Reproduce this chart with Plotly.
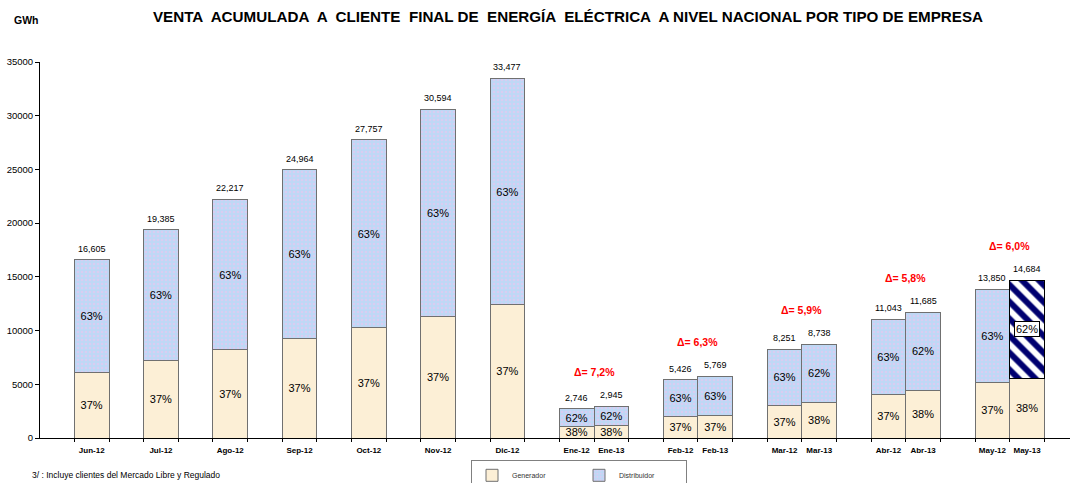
import plotly.graph_objects as go

# ---------------- data ----------------
categories = ["Jun-12", "Jul-12", "Ago-12", "Sep-12", "Oct-12", "Nov-12", "Dic-12",
              "Ene-12", "Ene-13", "Feb-12", "Feb-13", "Mar-12", "Mar-13",
              "Abr-12", "Abr-13", "May-12", "May-13"]
generador = [6144, 7172, 8220, 9237, 10270, 11320, 12386,
             1043, 1119, 2008, 2135, 3053, 3320, 4086, 4440, 5125, 5580]
distribuidor = [10461, 12213, 13997, 15727, 17487, 19274, 21091,
                1703, 1826, 3418, 3634, 5198, 5418, 6957, 7245, 8725, 9104]
totales = [16605, 19385, 22217, 24964, 27757, 30594, 33477,
           2746, 2945, 5426, 5769, 8251, 8738, 11043, 11685, 13850, 14684]
pct_generador = ["37%", "37%", "37%", "37%", "37%", "37%", "37%",
                 "38%", "38%", "37%", "37%", "37%", "38%", "37%", "38%", "37%", "38%"]
pct_distribuidor = ["63%", "63%", "63%", "63%", "63%", "63%", "63%",
                    "62%", "62%", "63%", "63%", "63%", "62%", "63%", "62%", "63%", "62%"]
delta_labels = ["Δ= 7,2%", "Δ= 6,3%", "Δ= 5,9%", "Δ= 5,8%", "Δ= 6,0%"]

# ---------------- layout helpers ----------------
n_single = 7
x_pos = list(range(n_single)) + [n_single + 1.5 * i + 0.5 * j
                                 for i in range(len(delta_labels)) for j in range(2)]
bar_w = 0.5
FONT = "Liberation Sans"

fig = go.Figure()
fig.add_trace(go.Bar(
    name="Generador", x=x_pos, y=generador, width=bar_w,
    marker=dict(color="#FCEFD6", line=dict(color="#707070", width=1)),
    text=pct_generador, textposition="inside", insidetextanchor="middle",
    textangle=0, insidetextfont=dict(family=FONT, size=11, color="black"),
    hoverinfo="skip"))
fig.add_trace(go.Bar(
    name="Distribuidor", x=x_pos[:-1], y=distribuidor[:-1], width=bar_w,
    marker=dict(color="#BED8F5", line=dict(color="#707070", width=1),
                pattern=dict(shape=".", fgcolor="#E0CAF0", size=4, solidity=0.3,
                             fillmode="overlay", fgopacity=0.8)),
    text=pct_distribuidor[:-1], textposition="inside", insidetextanchor="middle",
    textangle=0, insidetextfont=dict(family=FONT, size=11, color="black"),
    hoverinfo="skip"))
# highlighted (hatched) last bar
fig.add_trace(go.Bar(
    name="Distribuidor", x=x_pos[-1:], y=distribuidor[-1:], width=bar_w,
    showlegend=False,
    marker=dict(color="white", line=dict(color="black", width=1),
                pattern=dict(shape="\\", fgcolor="#000070", size=12, solidity=0.5,
                             fillmode="overlay", fgopacity=1)),
    hoverinfo="skip"))

annotations = []
# total labels
for xp, t in zip(x_pos, totales):
    annotations.append(dict(x=xp, y=t, xref="x", yref="y", text=f"{t:,}",
                            showarrow=False, yshift=11, yanchor="middle",
                            font=dict(family=FONT, size=9, color="black")))
# delta labels over each pair
for i, lab in enumerate(delta_labels):
    a = n_single + 2 * i
    cx = (x_pos[a] + x_pos[a + 1]) / 2
    top = max(totales[a], totales[a + 1])
    annotations.append(dict(x=cx, y=top, xref="x", yref="y", text=f"<b>{lab}</b>",
                            showarrow=False, yshift=34, yanchor="middle",
                            font=dict(family=FONT, size=10.5, color="#FF0000")))
# boxed label on the highlighted bar
annotations.append(dict(x=x_pos[-1], y=generador[-1] + distribuidor[-1] / 2,
                        xref="x", yref="y", text=pct_distribuidor[-1], showarrow=False,
                        bgcolor="white", bordercolor="black", borderwidth=1, borderpad=1,
                        font=dict(family=FONT, size=11, color="black")))
# unit label and footnote
annotations.append(dict(x=(12 - 40) / 1030, y=(437.7 - 20) / 376,
                        xref="x domain", yref="y domain", xanchor="left", yanchor="middle",
                        text="<b>GWh</b>", showarrow=False,
                        font=dict(family=FONT, size=10.5, color="black")))
annotations.append(dict(x=(30 - 40) / 1030, y=(437.7 - 475) / 376,
                        xref="x domain", yref="y domain", xanchor="left", yanchor="middle",
                        text="3/ : Incluye clientes del Mercado Libre y Regulado",
                        showarrow=False, font=dict(family=FONT, size=8.5, color="black")))

fig.update_layout(
    width=1076, height=483,
    margin=dict(l=40, r=6, t=62, b=45, autoexpand=False),
    paper_bgcolor="white", plot_bgcolor="white",
    barmode="stack", bargap=0,
    uniformtext=dict(minsize=11, mode="show"),
    font=dict(family=FONT, color="black"),
    title=dict(text="<b>VENTA  ACUMULADA  A  CLIENTE  FINAL DE  ENERGÍA  ELÉCTRICA  A NIVEL NACIONAL POR TIPO DE EMPRESA</b>",
               x=568 / 1076, xanchor="center", y=1 - 17 / 483, yanchor="middle",
               font=dict(family=FONT, size=15.2, color="black")),
    showlegend=True,
    legend=dict(orientation="h", x=(579 - 40) / 1030, xanchor="center",
                y=(437.7 - 475) / 376, yanchor="middle",
                bordercolor="#808080", borderwidth=1, bgcolor="white",
                font=dict(family=FONT, size=7, color="#333333"),
                entrywidth=62, traceorder="normal", itemwidth=30),
    annotations=annotations,
)
fig.update_xaxes(
    range=[-0.746, 14.12], tickmode="array", tickvals=x_pos,
    ticktext=[f"<b>{c}</b>" for c in categories],
    tickfont=dict(family=FONT, size=8, color="black"), ticks="",
    showline=True, linecolor="black", linewidth=1, showgrid=False, zeroline=False,
    minor=dict(ticks="outside", tick0=0.25, dtick=0.5, ticklen=3, tickcolor="black",
               showgrid=False),
    ticklabelstandoff=4,
)
fig.update_yaxes(
    range=[0, 35000], dtick=5000, tickformat="d", showgrid=False, zeroline=False,
    showline=True, linecolor="black", linewidth=1, ticks="outside", ticklen=4,
    tickcolor="black", tickfont=dict(family=FONT, size=9.5, color="black"),
)

fig.write_html("out.html", config={"displayModeBar": False, "staticPlot": True},
               post_script="document.body.style.margin='0';document.body.style.overflow='hidden';")
